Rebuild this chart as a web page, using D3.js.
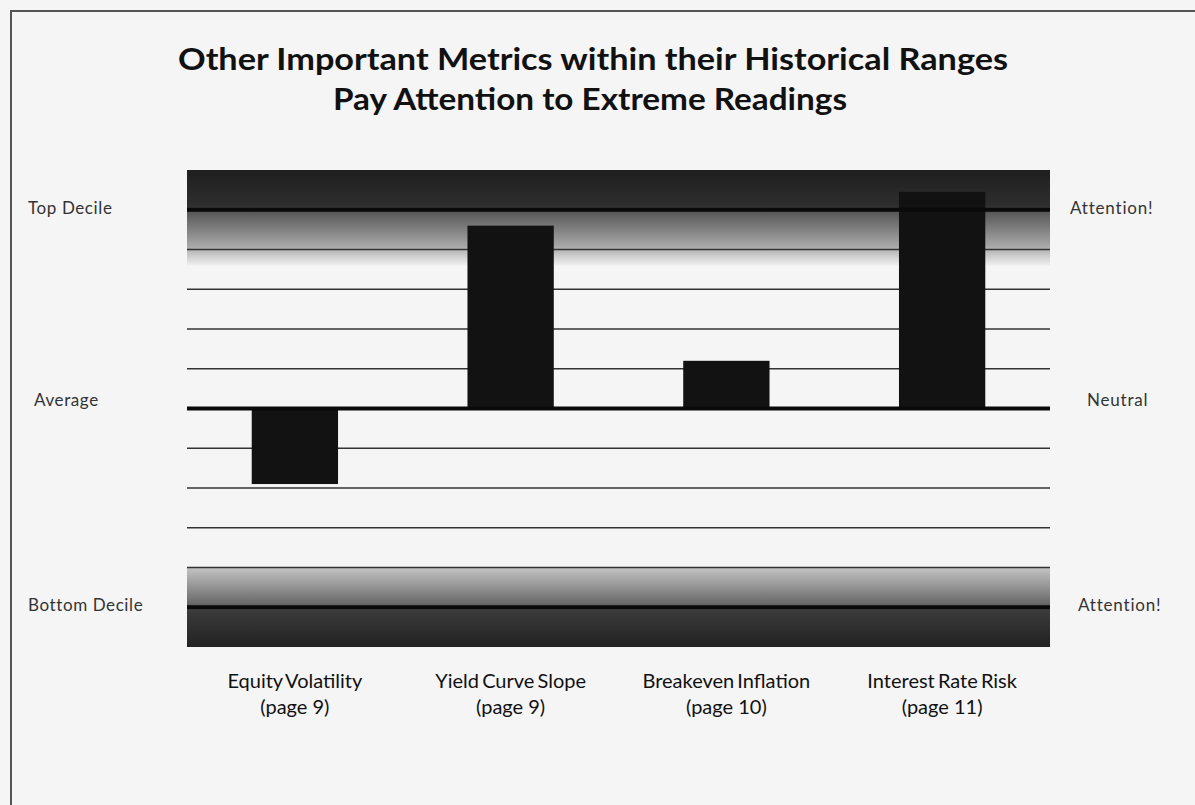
<!DOCTYPE html>
<html>
<head>
<meta charset="utf-8">
<script src="https://cdn.jsdelivr.net/npm/d3@7"></script>
<style>
  body { margin: 0; background: #f5f5f5; }
  svg { display: block; font-family: Lato, 'Open Sans', sans-serif; }
</style>
</head>
<body>
<svg></svg>
<script>
const categories = ['Equity Volatility', 'Yield Curve Slope', 'Breakeven Inflation', 'Interest Rate  Risk'];
const pages = ['(page 9)', '(page 9)', '(page 10)', '(page 11)'];
const values = [-1.9, 4.6, 1.2, 5.45];
const gridLevels = [-5, -4, -3, -2, -1, 0, 1, 2, 3, 4, 5];
const markerLevels = [5, 0, -5];
const leftLabels = ['Top Decile', 'Average', 'Bottom Decile'];
const rightLabels = ['Attention!', 'Neutral', 'Attention!'];
const titleLines = ['Other Important Metrics within their Historical Ranges', 'Pay Attention to Extreme Readings'];

const width = 1195, height = 805;
const svg = d3.select('svg')
    .attr('width', width)
    .attr('height', height);

const x = d3.scaleBand()
    .domain(categories)
    .range([187, 1050])
    .paddingInner(0.6)
    .paddingOuter(0.3);

const y = d3.scaleLinear()
    .domain([-6, 6])
    .range([647, 170]);

// background + frame
svg.append('rect')
    .attr('width', width).attr('height', height)
    .attr('fill', '#f5f5f5');
svg.append('path')
    .attr('d', 'M11,805 V11 H1195')
    .attr('fill', 'none')
    .attr('stroke', '#555')
    .attr('stroke-width', 2);

const defs = svg.append('defs');
const topGrad = defs.append('linearGradient')
    .attr('id', 'topGrad').attr('x1', 0).attr('x2', 0).attr('y1', 0).attr('y2', 1);
topGrad.append('stop').attr('offset', '0%').attr('stop-color', '#1f1f1f');
topGrad.append('stop').attr('offset', '38%').attr('stop-color', '#2e2e2e');
topGrad.append('stop').attr('offset', '45%').attr('stop-color', '#5a5a5a');
topGrad.append('stop').attr('offset', '80%').attr('stop-color', '#a8a8a8');
topGrad.append('stop').attr('offset', '100%').attr('stop-color', '#f0f0f0');

const botGrad = defs.append('linearGradient')
    .attr('id', 'botGrad').attr('x1', 0).attr('x2', 0).attr('y1', 0).attr('y2', 1);
botGrad.append('stop').attr('offset', '0%').attr('stop-color', '#c4c4c4');
botGrad.append('stop').attr('offset', '45%').attr('stop-color', '#6a6a6a');
botGrad.append('stop').attr('offset', '55%').attr('stop-color', '#3a3a3a');
botGrad.append('stop').attr('offset', '100%').attr('stop-color', '#222');

const [x0, x1] = x.range();

// shaded extreme zones
svg.append('rect')
    .attr('x', x0).attr('width', x1 - x0)
    .attr('y', y(6)).attr('height', y(3.6) - y(6))
    .attr('fill', 'url(#topGrad)');
svg.append('rect')
    .attr('x', x0).attr('width', x1 - x0)
    .attr('y', y(-4)).attr('height', y(-6) - y(-4))
    .attr('fill', 'url(#botGrad)');

// grid lines
svg.selectAll('.grid')
    .data(gridLevels.filter(d => !markerLevels.includes(d)))
    .enter()
    .append('line')
    .attr('class', 'grid')
    .attr('x1', x0).attr('x2', x1)
    .attr('y1', d => y(d)).attr('y2', d => y(d))
    .attr('stroke', '#333')
    .attr('stroke-width', 1.3);

// bars
svg.selectAll('.bar')
    .data(values)
    .enter()
    .append('rect')
    .attr('class', 'bar')
    .attr('x', (d, i) => x(categories[i]))
    .attr('width', x.bandwidth())
    .attr('y', d => y(Math.max(0, d)))
    .attr('height', d => Math.abs(y(d) - y(0)))
    .attr('fill', '#121212');

// thick marker lines
svg.selectAll('.marker')
    .data(markerLevels)
    .enter()
    .append('line')
    .attr('class', 'marker')
    .attr('x1', x0).attr('x2', x1)
    .attr('y1', d => y(d)).attr('y2', d => y(d))
    .attr('stroke', '#0a0a0a')
    .attr('stroke-width', 4);

// side labels
svg.selectAll('.left-label')
    .data(markerLevels)
    .enter()
    .append('text')
    .attr('x', (d, i) => [28, 34, 28][i])
    .attr('y', d => y(d) + (d === 0 ? -8 : -2))
    .attr('dy', '0.35em')
    .text((d, i) => leftLabels[i])
    .attr('fill', '#333')
    .style('font-size', '17px')
    .style('letter-spacing', '0.6px');

svg.selectAll('.right-label')
    .data(markerLevels)
    .enter()
    .append('text')
    .attr('x', (d, i) => [1070, 1087, 1078][i])
    .attr('y', d => y(d) + (d === 0 ? -8 : -2))
    .attr('dy', '0.35em')
    .text((d, i) => rightLabels[i])
    .attr('fill', '#333')
    .style('font-size', '17px')
    .style('letter-spacing', '0.8px');

// category labels
const catLabels = svg.selectAll('.cat')
    .data(categories)
    .enter()
    .append('text')
    .attr('text-anchor', 'middle')
    .attr('fill', '#111')
    .style('font-size', '20px');
catLabels.append('tspan')
    .attr('x', d => x(d) + x.bandwidth() / 2)
    .attr('y', 688)
    .style('word-spacing', '-2px')
    .text(d => d);
catLabels.append('tspan')
    .attr('x', d => x(d) + x.bandwidth() / 2)
    .attr('y', 714)
    .text((d, i) => pages[i]);

// title
svg.selectAll('.title')
    .data(titleLines)
    .enter()
    .append('text')
    .attr('x', (d, i) => [593, 590][i])
    .attr('y', (d, i) => 70 + i * 40)
    .attr('text-anchor', 'middle')
    .attr('textLength', (d, i) => [830, 514][i])
    .attr('lengthAdjust', 'spacingAndGlyphs')
    .text(d => d)
    .attr('fill', '#111')
    .style('font-size', '31px')
    .style('font-weight', 'bold');
</script>
</body>
</html>
